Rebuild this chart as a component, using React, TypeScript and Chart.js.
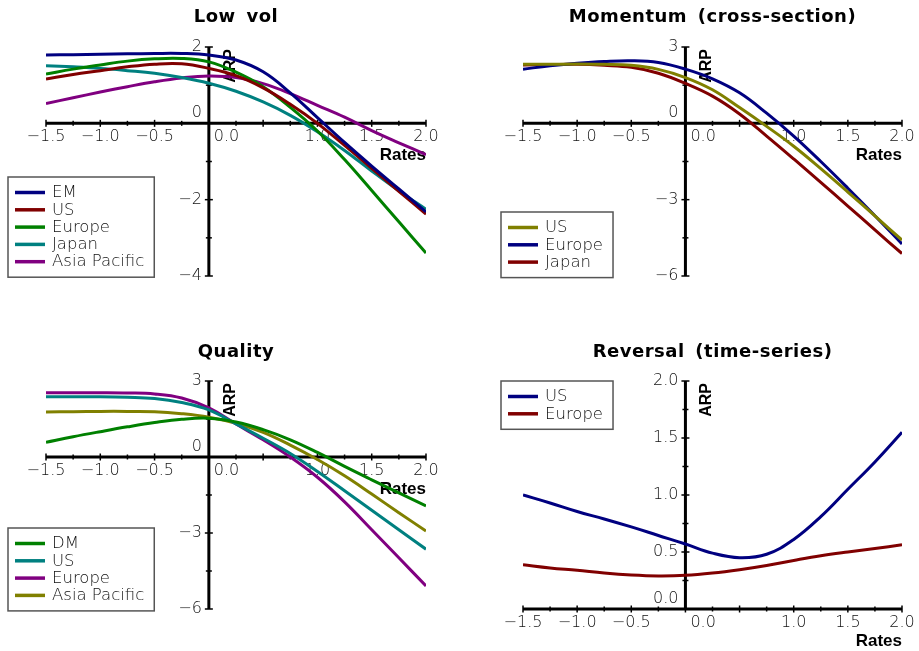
import React, { useEffect, useRef } from 'react';
import { Chart, registerables } from 'chart.js';

Chart.register(...registerables);

// ---------- data ----------
const xValues = [-1.5, -1.25, -1.0, -0.75, -0.5, -0.25, 0, 0.25, 0.5, 0.75, 1.0, 1.25, 1.5, 1.75, 2.0];

// Low vol
const lowVolEM = [1.79, 1.8, 1.81, 1.82, 1.83, 1.83, 1.79, 1.66, 1.35, 0.8, 0.15, -0.5, -1.12, -1.72, -2.32];
const lowVolUS = [1.16, 1.28, 1.38, 1.48, 1.55, 1.56, 1.44, 1.25, 0.93, 0.5, 0.0, -0.58, -1.18, -1.78, -2.38];
const lowVolEurope = [1.29, 1.42, 1.53, 1.63, 1.69, 1.7, 1.61, 1.34, 0.96, 0.42, -0.2, -0.95, -1.76, -2.58, -3.4];
const lowVolJapan = [1.51, 1.48, 1.44, 1.38, 1.31, 1.2, 1.05, 0.84, 0.56, 0.21, -0.22, -0.71, -1.25, -1.77, -2.25];
const lowVolAsiaPacific = [0.52, 0.67, 0.82, 0.96, 1.09, 1.19, 1.24, 1.2, 1.04, 0.78, 0.47, 0.16, -0.19, -0.51, -0.82];

// Momentum (cross-section)
const momUS = [2.32, 2.32, 2.33, 2.32, 2.28, 2.12, 1.8, 1.32, 0.62, -0.12, -0.9, -1.78, -2.7, -3.64, -4.59];
const momEurope = [2.13, 2.26, 2.36, 2.43, 2.46, 2.39, 2.13, 1.75, 1.2, 0.4, -0.5, -1.5, -2.55, -3.63, -4.74];
const momJapan = [2.29, 2.31, 2.32, 2.28, 2.2, 1.97, 1.57, 1.07, 0.37, -0.5, -1.4, -2.32, -3.25, -4.19, -5.12];

// Quality
const qualDM = [0.58, 0.8, 1.0, 1.19, 1.36, 1.49, 1.53, 1.38, 1.08, 0.68, 0.18, -0.37, -0.9, -1.42, -1.93];
const qualUS = [2.38, 2.38, 2.38, 2.36, 2.31, 2.15, 1.86, 1.31, 0.74, 0.14, -0.57, -1.33, -2.1, -2.87, -3.64];
const qualEurope = [2.54, 2.54, 2.54, 2.53, 2.49, 2.33, 1.94, 1.3, 0.68, 0.0, -0.8, -1.77, -2.87, -3.98, -5.09];
const qualAsiaPacific = [1.78, 1.79, 1.8, 1.8, 1.79, 1.71, 1.57, 1.33, 0.97, 0.47, -0.1, -0.74, -1.46, -2.2, -2.92];

// Reversal (time-series)
const revUS = [1.0, 0.93, 0.855, 0.79, 0.72, 0.645, 0.57, 0.49, 0.45, 0.48, 0.61, 0.81, 1.05, 1.29, 1.55];
const revEurope = [0.388, 0.36, 0.339, 0.315, 0.298, 0.29, 0.295, 0.315, 0.345, 0.382, 0.426, 0.467, 0.5, 0.53, 0.563];

// tick labels
const xTickValues = [-1.5, -1.0, -0.5, 0.0, 1.0, 1.5, 2.0];
const xTickLabels = ['\u22121.5', '\u22121.0', '\u22120.5', '0.0', '1.0', '1.5', '2.0'];
const lowVolYTickValues = [2, 0, -2, -4];
const lowVolYTickLabels = ['2', '0', '\u22122', '\u22124'];
const momYTickValues = [3, 0, -3, -6];
const momYTickLabels = ['3', '0', '\u22123', '\u22126'];
const qualYTickValues = [3, 0, -3, -6];
const qualYTickLabels = ['3', '0', '\u22123', '\u22126'];
const revYTickValues = [0, 0.5, 1.0, 1.5, 2.0];
const revYTickLabels = ['0.0', '0.5', '1.0', '1.5', '2.0'];

// ---------- colours ----------
const NAVY = '#000080';
const DARKRED = '#800000';
const GREEN = '#008000';
const TEAL = '#008080';
const PURPLE = '#800080';
const OLIVE = '#808000';

const X_MIN = -1.5;
const X_MAX = 2.0;

interface Series { label: string; color: string; values: number[] }
interface Panel {
  title: string;
  series: Series[];
  yMin: number;
  yMax: number;
  yMajor: number;
  yMinor: number;
  yTickValues: number[];
  yTickLabels: string[];
  box: { left: number; top: number; width: number; height: number };
  pad: { left: number; right: number; top: number; bottom: number };
  titleY: number;
  legend: { x: number; y: number };
}

const panels: Panel[] = [
  {
    title: 'Low vol',
    series: [
      { label: 'EM', color: NAVY, values: lowVolEM },
      { label: 'US', color: DARKRED, values: lowVolUS },
      { label: 'Europe', color: GREEN, values: lowVolEurope },
      { label: 'Japan', color: TEAL, values: lowVolJapan },
      { label: 'Asia Pacific', color: PURPLE, values: lowVolAsiaPacific },
    ],
    yMin: -4, yMax: 2, yMajor: 2, yMinor: 1,
    yTickValues: lowVolYTickValues, yTickLabels: lowVolYTickLabels,
    box: { left: 0, top: 0, width: 460, height: 325 },
    pad: { left: 46, right: 34, top: 47, bottom: 49 },
    titleY: 17,
    legend: { x: 8, y: 177 },
  },
  {
    title: 'Momentum (cross-section)',
    series: [
      { label: 'US', color: OLIVE, values: momUS },
      { label: 'Europe', color: NAVY, values: momEurope },
      { label: 'Japan', color: DARKRED, values: momJapan },
    ],
    yMin: -6, yMax: 3, yMajor: 3, yMinor: 1.5,
    yTickValues: momYTickValues, yTickLabels: momYTickLabels,
    box: { left: 460, top: 0, width: 459, height: 325 },
    pad: { left: 63, right: 17, top: 47, bottom: 49 },
    titleY: 17,
    legend: { x: 41, y: 212 },
  },
  {
    title: 'Quality',
    series: [
      { label: 'DM', color: GREEN, values: qualDM },
      { label: 'US', color: TEAL, values: qualUS },
      { label: 'Europe', color: PURPLE, values: qualEurope },
      { label: 'Asia Pacific', color: OLIVE, values: qualAsiaPacific },
    ],
    yMin: -6, yMax: 3, yMajor: 3, yMinor: 1.5,
    yTickValues: qualYTickValues, yTickLabels: qualYTickLabels,
    box: { left: 0, top: 325, width: 460, height: 326 },
    pad: { left: 46, right: 34, top: 56, bottom: 42 },
    titleY: 27,
    legend: { x: 8, y: 203 },
  },
  {
    title: 'Reversal (time-series)',
    series: [
      { label: 'US', color: NAVY, values: revUS },
      { label: 'Europe', color: DARKRED, values: revEurope },
    ],
    yMin: 0, yMax: 2, yMajor: 0.5, yMinor: 0.25,
    yTickValues: revYTickValues, yTickLabels: revYTickLabels,
    box: { left: 460, top: 325, width: 459, height: 326 },
    pad: { left: 63, right: 17, top: 56, bottom: 42 },
    titleY: 27,
    legend: { x: 41, y: 56 },
  },
];

const TICK_FONT = '200 16px "DejaVu Sans"';
const LEGEND_FONT = '200 16.5px "DejaVu Sans"';

function isMultiple(v: number, step: number) {
  const r = v / step;
  return Math.abs(r - Math.round(r)) < 1e-6;
}

function makeDecor(p: Panel) {
  return {
    id: 'decor',
    beforeDatasetsDraw(chart: any) {
      const ctx: CanvasRenderingContext2D = chart.ctx;
      const xs = chart.scales.x;
      const ys = chart.scales.y;
      const ca = chart.chartArea;
      const X = (v: number) => xs.getPixelForValue(v);
      const Y = (v: number) => ys.getPixelForValue(v);
      const x0 = X(0);
      const y0 = Y(0);
      ctx.save();
      // title
      ctx.fillStyle = '#000';
      ctx.font = 'bold 18px "DejaVu Sans"';
      ctx.textAlign = 'center';
      ctx.textBaseline = 'middle';
      (ctx as any).letterSpacing = '0.5px';
      (ctx as any).wordSpacing = '4px';
      ctx.fillText(p.title, (ca.left + ca.right) / 2, p.titleY);
      (ctx as any).letterSpacing = '0px';
      (ctx as any).wordSpacing = '0px';

      // axes
      ctx.strokeStyle = '#000';
      ctx.lineWidth = 3;
      ctx.lineCap = 'butt';
      ctx.beginPath();
      ctx.moveTo(X(X_MIN), y0);
      ctx.lineTo(X(X_MAX), y0);
      ctx.stroke();
      ctx.beginPath();
      ctx.moveTo(x0, Y(p.yMin));
      ctx.lineTo(x0, Y(p.yMax));
      ctx.stroke();

      // x ticks
      ctx.lineWidth = 1.5;
      for (let i = 0; ; i++) {
        const v = X_MIN + i * 0.25;
        if (v > X_MAX + 1e-9) break;
        const h = isMultiple(v, 0.5) ? 3.5 : 2.5;
        ctx.beginPath();
        ctx.moveTo(X(v), y0 - h);
        ctx.lineTo(X(v), y0 + h);
        ctx.stroke();
      }
      // y ticks
      for (let i = 0; ; i++) {
        const v = p.yMin + i * p.yMinor;
        if (v > p.yMax + 1e-9) break;
        const h = isMultiple(v, p.yMajor) ? 4 : 3;
        ctx.beginPath();
        ctx.moveTo(x0 - h, Y(v));
        ctx.lineTo(x0 + h, Y(v));
        ctx.stroke();
      }

      // tick labels
      ctx.fillStyle = '#111';
      ctx.font = TICK_FONT;
      ctx.textBaseline = 'middle';
      xTickValues.forEach((v, i) => {
        if (v === 0) {
          ctx.textAlign = 'left';
          ctx.fillText(xTickLabels[i], x0 + 5, y0 + 13.5);
        } else {
          ctx.textAlign = 'center';
          ctx.fillText(xTickLabels[i], X(v), y0 + 13.5);
        }
      });
      ctx.textAlign = 'right';
      p.yTickValues.forEach((v, i) => {
        const dy = v === 0 ? -10 : 0;
        ctx.fillText(p.yTickLabels[i], x0 - 7, Y(v) + dy);
      });

      // axis titles
      ctx.fillStyle = '#000';
      ctx.font = 'bold 17px "Liberation Sans"';
      ctx.textAlign = 'right';
      ctx.textBaseline = 'alphabetic';
      ctx.fillText('Rates', X(X_MAX), y0 + 37);

      ctx.save();
      ctx.font = 'bold 16px "Liberation Sans"';
      ctx.translate(x0 + 26, Y(p.yMax) + 2);
      ctx.rotate(-Math.PI / 2);
      ctx.textAlign = 'right';
      ctx.textBaseline = 'alphabetic';
      ctx.fillText('ARP', 0, 0);
      ctx.restore();

      ctx.restore();
    },
    afterDatasetsDraw(chart: any) {
      const ctx: CanvasRenderingContext2D = chart.ctx;
      ctx.save();
      ctx.font = LEGEND_FONT;
      let maxW = 0;
      p.series.forEach((s) => {
        maxW = Math.max(maxW, ctx.measureText(s.label).width);
      });
      const lx = p.legend.x;
      const ly = p.legend.y;
      const rowH = 17.3;
      const w = 44 + maxW + 10;
      const h = 31 + (p.series.length - 1) * rowH;
      ctx.fillStyle = '#fff';
      ctx.fillRect(lx, ly, w, h);
      ctx.strokeStyle = '#555';
      ctx.lineWidth = 1.5;
      ctx.strokeRect(lx, ly, w, h);
      ctx.textAlign = 'left';
      ctx.textBaseline = 'middle';
      p.series.forEach((s, i) => {
        const cy = ly + 15.5 + i * rowH;
        ctx.strokeStyle = s.color;
        ctx.lineWidth = 3.5;
        ctx.beginPath();
        ctx.moveTo(lx + 7, cy);
        ctx.lineTo(lx + 37, cy);
        ctx.stroke();
        ctx.fillStyle = '#111';
        ctx.fillText(s.label, lx + 44, cy + 0.5);
      });
      ctx.restore();
    },
  };
}

function PanelChart({ panel }: { panel: Panel }) {
  const ref = useRef<HTMLCanvasElement>(null);
  useEffect(() => {
    if (!ref.current) return;
    const chart = new Chart(ref.current, {
      type: 'line',
      data: {
        datasets: panel.series.map((s) => ({
          label: s.label,
          data: xValues.map((x, i) => ({ x, y: s.values[i] })),
          borderColor: s.color,
          backgroundColor: s.color,
          borderWidth: 3,
          pointRadius: 0,
          tension: 0.4,
          fill: false,
        })),
      },
      options: {
        responsive: false,
        animation: false,
        events: [],
        layout: { padding: panel.pad },
        scales: {
          x: { type: 'linear', min: X_MIN, max: X_MAX, display: false },
          y: { type: 'linear', min: panel.yMin, max: panel.yMax, display: false },
        },
        plugins: {
          legend: { display: false },
          tooltip: { enabled: false },
          title: { display: false },
        },
      } as any,
      plugins: [makeDecor(panel) as any],
    });
    return () => chart.destroy();
  }, [panel]);
  return (
    <canvas
      ref={ref}
      width={panel.box.width}
      height={panel.box.height}
      style={{ position: 'absolute', left: panel.box.left, top: panel.box.top }}
    />
  );
}

export default function App() {
  return (
    <div
      style={{
        position: 'fixed',
        left: 0,
        top: 0,
        width: 919,
        height: 651,
        background: '#fff',
        overflow: 'hidden',
      }}
    >
      {panels.map((p) => (
        <PanelChart key={p.title} panel={p} />
      ))}
    </div>
  );
}
